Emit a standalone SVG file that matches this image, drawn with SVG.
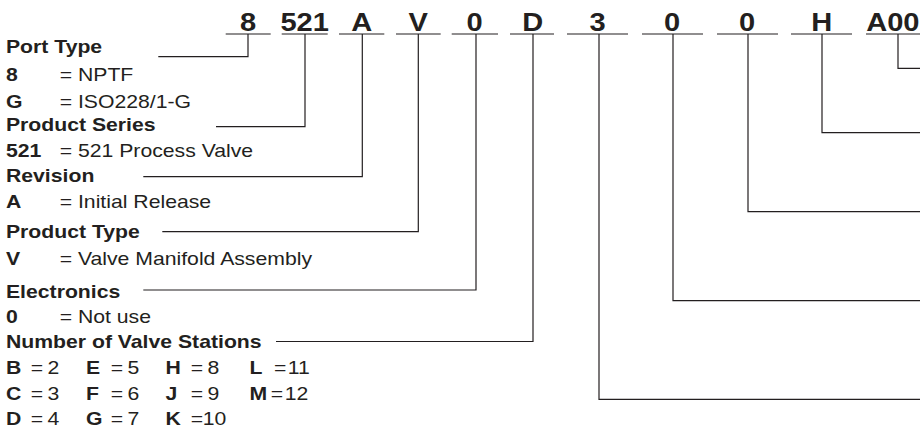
<svg xmlns="http://www.w3.org/2000/svg" width="920" height="428" viewBox="0 0 920 428">
<style>
text{font-family:"Liberation Sans",Arial,Helvetica,sans-serif;fill:#231f20}
.code{font-size:25.5px;font-weight:bold;text-anchor:middle}
.h{font-size:18.6px;font-weight:bold}
.r{font-size:18.6px}
.b{font-weight:bold}
.ul{stroke:#231f20;stroke-width:1.2;fill:none}
.cn polyline{stroke:#231f20;stroke-width:1.2;fill:none}
</style>
<rect width="920" height="428" fill="#fff"/>

<g id="port-type">
<line class="ul" x1="225.7" y1="34" x2="270.7" y2="34"/>
<text class="code" transform="scale(1.14 1)" x="217.54" y="31.5">8</text>
<text class="h" transform="scale(1.14 1)" x="5.26" y="53.3">Port Type</text>
<text class="r" transform="scale(1.14 1)" y="81"><tspan class="b" x="5.26">8</tspan><tspan x="52.37">= NPTF</tspan></text>
<text class="r" transform="scale(1.14 1)" y="107.6"><tspan class="b" x="5.26">G</tspan><tspan x="52.37">= ISO228/1-G</tspan></text>
</g>

<g id="product-series">
<line class="ul" x1="281.7" y1="34" x2="327.7" y2="34"/>
<text class="code" transform="scale(1.14 1)" x="267.28" y="31.5">521</text>
<text class="h" transform="scale(1.14 1)" x="5.26" y="131">Product Series</text>
<text class="r" transform="scale(1.14 1)" y="156.7"><tspan class="b" x="5.26">521</tspan><tspan x="52.37">= 521 Process Valve</tspan></text>
</g>

<g id="revision">
<line class="ul" x1="339" y1="34" x2="384.3" y2="34"/>
<text class="code" transform="scale(1.14 1)" x="317.28" y="31.5">A</text>
<text class="h" transform="scale(1.14 1)" x="5.26" y="181.7">Revision</text>
<text class="r" transform="scale(1.14 1)" y="207.7"><tspan class="b" x="5.26">A</tspan><tspan x="52.37">= Initial Release</tspan></text>
</g>

<g id="product-type">
<line class="ul" x1="396" y1="34" x2="440.7" y2="34"/>
<text class="code" transform="scale(1.14 1)" x="366.93" y="31.5">V</text>
<text class="h" transform="scale(1.14 1)" x="5.26" y="238.5">Product Type</text>
<text class="r" transform="scale(1.14 1)" y="265"><tspan class="b" x="5.26">V</tspan><tspan x="52.37">= Valve Manifold Assembly</tspan></text>
</g>

<g id="electronics">
<line class="ul" x1="451.7" y1="34" x2="498" y2="34"/>
<text class="code" transform="scale(1.14 1)" x="416.23" y="31.5">0</text>
<text class="h" transform="scale(1.14 1)" x="5.26" y="298.3">Electronics</text>
<text class="r" transform="scale(1.14 1)" y="323.3"><tspan class="b" x="5.26">0</tspan><tspan x="52.37">= Not use</tspan></text>
</g>

<g id="valve-stations">
<line class="ul" x1="510" y1="34" x2="554" y2="34"/>
<text class="code" transform="scale(1.14 1)" x="467.28" y="31.5">D</text>
<text class="h" transform="scale(1.14 1)" x="5.26" y="348.3">Number of Valve Stations</text>
<text class="r" transform="scale(1.14 1)" y="374"><tspan class="b" x="5.26">B</tspan><tspan x="26.93">=</tspan><tspan x="41.67">2</tspan><tspan class="b" x="75.44">E</tspan><tspan x="97.11">=</tspan><tspan x="111.84">5</tspan><tspan class="b" x="145.18">H</tspan><tspan x="167.28">=</tspan><tspan x="182.02">8</tspan><tspan class="b" x="218.86">L</tspan><tspan x="240.35">=</tspan><tspan x="252.4">11</tspan></text>
<text class="r" transform="scale(1.14 1)" y="400"><tspan class="b" x="5.26">C</tspan><tspan x="26.93">=</tspan><tspan x="41.67">3</tspan><tspan class="b" x="75.44">F</tspan><tspan x="97.11">=</tspan><tspan x="111.84">6</tspan><tspan class="b" x="145.18">J</tspan><tspan x="167.28">=</tspan><tspan x="182.02">9</tspan><tspan class="b" x="218.86">M</tspan><tspan x="237.46">=</tspan><tspan x="249.7">12</tspan></text>
<text class="r" transform="scale(1.14 1)" y="425"><tspan class="b" x="5.26">D</tspan><tspan x="26.93">=</tspan><tspan x="41.67">4</tspan><tspan class="b" x="75.44">G</tspan><tspan x="97.11">=</tspan><tspan x="111.84">7</tspan><tspan class="b" x="145.18">K</tspan><tspan x="167.28">=</tspan><tspan x="177.8">10</tspan></text>
</g>

<g id="code-3">
<line class="ul" x1="567" y1="34" x2="628" y2="34"/>
<text class="code" transform="scale(1.14 1)" x="524.12" y="31.5">3</text>
</g>

<g id="code-0a">
<line class="ul" x1="642" y1="34" x2="703" y2="34"/>
<text class="code" transform="scale(1.14 1)" x="589.65" y="31.5">0</text>
</g>

<g id="code-0b">
<line class="ul" x1="717" y1="34" x2="778" y2="34"/>
<text class="code" transform="scale(1.14 1)" x="655.26" y="31.5">0</text>
</g>

<g id="code-h">
<line class="ul" x1="791" y1="34" x2="852" y2="34"/>
<text class="code" transform="scale(1.14 1)" x="720.79" y="31.5">H</text>
</g>

<g id="code-a00">
<line class="ul" x1="866" y1="34" x2="920" y2="34"/>
<text class="code" transform="scale(1.14 1)" x="806.6" y="31.5" style="text-anchor:end">A00</text>
</g>

<g id="connectors" class="cn">
<polyline points="248,34 248,56.7 158.3,56.7"/>
<polyline points="305,34 305,126.7 216,126.7"/>
<polyline points="362.3,34 362.3,176.7 143.3,176.7"/>
<polyline points="418.3,34 418.3,231.7 162.3,231.7"/>
<polyline points="476,34 476,290 143.3,290"/>
<polyline points="533,34 533,341.5 276,341.5"/>
<polyline points="599,34 599,399.3 920,399.3"/>
<polyline points="673,34 673,300.7 920,300.7"/>
<polyline points="748,34 748,211.7 920,211.7"/>
<polyline points="822,34 822,132.7 920,132.7"/>
<polyline points="898,34 898,68.3 920,68.3"/>
</g>
</svg>
